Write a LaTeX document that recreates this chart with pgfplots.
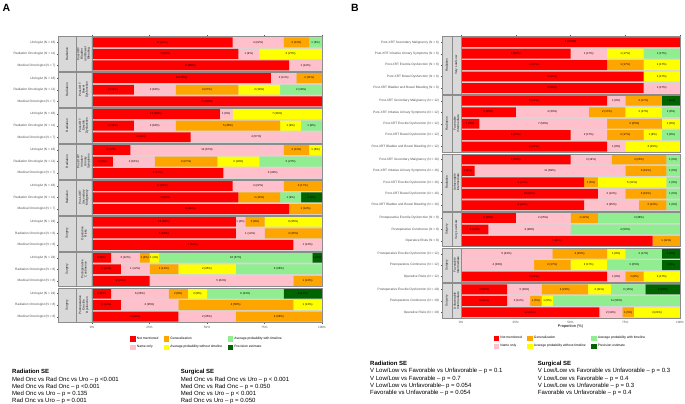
\documentclass[border=0pt]{standalone}
\usepackage{fontspec}
\setmainfont{Liberation Sans}
\usepackage{pgfplots}
\usepackage{pgfplotstable}
\pgfplotsset{compat=1.18}

\definecolor{cNM}{HTML}{FF0000}
\definecolor{cNO}{HTML}{FFC0CB}
\definecolor{cGE}{HTML}{FFA500}
\definecolor{cAW}{HTML}{FFFF00}
\definecolor{cAT}{HTML}{90EE90}
\definecolor{cPE}{HTML}{006400}
\definecolor{stripfill}{HTML}{D9D9D9}
\definecolor{stripdraw}{HTML}{8C8C8C}
\definecolor{paneldraw}{HTML}{8C8C8C}
\definecolor{panelbg}{HTML}{D6D6D6}
\definecolor{axtext}{HTML}{4D4D4D}
\definecolor{tickc}{HTML}{555555}

\newcommand\rowfont{\fontsize{3.2}{3.6}\selectfont}
\newcommand\ticfont{\fontsize{3.1}{3.5}\selectfont}
\newcommand\barfont{\fontsize{2.8}{3.1}\selectfont}
\newcommand\legfont{\fontsize{3.3}{3.7}\selectfont}
\newcommand\stripfont{\fontsize{3.1}{3.4}\selectfont}
\newcommand\bt{\fontsize{6}{7.25}\selectfont}

\newcommand\seglabel{%
  \ifdim\segcnt pt>0.5pt\relax
    \pgfmathtruncatemacro\segci{round(\segcnt)}%
    \pgfmathtruncatemacro\segni{round(\segnn)}%
    \pgfmathsetmacro\segpp{100*\segci/\segni}%
    \pgfmathsetmacro\segfl{floor(\segpp)}%
    \pgfmathsetmacro\segpr{abs(\segpp-\segfl-0.5)<0.01 ? (\segfl+mod(\segfl,2)) : round(\segpp)}%
    \pgfmathtruncatemacro\segpr{\segpr}%
    \segci\ (\segpr\%)%
  \fi}

% bar segment: #1 table, #2 column, #3 colour
\newcommand\seg[3]{%
 \addplot[forget plot, fill=#3, draw=none]
   table[x expr={100*\thisrow{#2}/\thisrow{N}}, y expr={-\thisrow{y}}]{#1};}

% label of a segment, at its centre: #1 table, #2 column, #3 x of centre
\newcommand\lab[3]{%
 \addplot[forget plot, draw=none, mark=none,
   visualization depends on={\thisrow{#2} \as \segcnt},
   visualization depends on={\thisrow{N} \as \segnn},
   nodes near coords={\seglabel},
   every node near coord/.append style={anchor=center, inner sep=0pt, font=\barfont, text=black}]
   table[x expr={#3}, y expr={-\thisrow{y}}]{#1};}

\newcommand\alllabels[1]{%
 \lab{#1}{c1}{100*(0.5*\thisrow{c1})/\thisrow{N}}
 \lab{#1}{c2}{100*(\thisrow{c1}+0.5*\thisrow{c2})/\thisrow{N}}
 \lab{#1}{c3}{100*(\thisrow{c1}+\thisrow{c2}+0.5*\thisrow{c3})/\thisrow{N}}
 \lab{#1}{c4}{100*(\thisrow{c1}+\thisrow{c2}+\thisrow{c3}+0.5*\thisrow{c4})/\thisrow{N}}
 \lab{#1}{c5}{100*(\thisrow{c1}+\thisrow{c2}+\thisrow{c3}+\thisrow{c4}+0.5*\thisrow{c5})/\thisrow{N}}
 \lab{#1}{c6}{100*(\thisrow{c1}+\thisrow{c2}+\thisrow{c3}+\thisrow{c4}+\thisrow{c5}+0.5*\thisrow{c6})/\thisrow{N}}
}

\newcommand\legsq[2]{\addlegendimage{legend image code/.code={\fill[#1] (0pt,-2.1pt) rectangle (4.2pt,2.1pt);}}\addlegendentry{#2}}

% background of a facet: #1 strip1 left, #2 strip2 left, #3 top, #4 bottom
\newcommand\facetbg[4]{%
  \fill[panelbg] (axis cs:0,-#3) rectangle (axis cs:100,-#4);
  \fill[stripfill] (axis cs:#1,-#3) rectangle (axis cs:0,-#4);}
% front of a facet: borders and strip texts
\newcommand\facetfront[6]{%
  \draw[draw=stripdraw, line width=0.35pt] (axis cs:#1,-#3) rectangle (axis cs:#2,-#4);
  \draw[draw=stripdraw, line width=0.35pt] (axis cs:#2,-#3) rectangle (axis cs:0,-#4);
  \draw[draw=paneldraw, line width=0.35pt] (axis cs:0,-#3) rectangle (axis cs:100,-#4);
  \node[rotate=90, font=\stripfont, align=center, text=black!90, inner sep=0pt] at (axis cs:{0.5*(#1)+0.5*(#2)},{-0.5*(#3)-0.5*(#4)}) {#5};
  \node[rotate=90, font=\stripfont, align=center, text=black!90, inner sep=0pt] at (axis cs:{0.5*(#2)},{-0.5*(#3)-0.5*(#4)}) {#6};
}

\pgfplotstableread{
y N c1 c2 c3 c4 c5 c6
0.5 18 11 4 2 0 1 0
1.5 11 7 1 0 3 0 0
2.5 7 6 1 0 0 0 0
3.6 18 14 2 2 0 0 0
4.6 11 2 2 3 2 2 0
5.6 7 7 0 0 0 0 0
6.7 18 10 1 0 7 0 0
7.7 11 2 2 5 1 1 0
8.7 7 3 4 0 0 0 0
9.8 18 3 12 2 1 0 0
10.8 11 1 2 3 2 3 0
11.8 7 4 3 0 0 0 0
12.9 18 11 4 3 0 0 0
13.9 11 7 0 2 0 1 1
14.9 7 6 0 1 0 0 0
16.0 24 15 1 2 6 0 0
17.0 8 5 1 2 0 0 0
18.0 8 7 1 0 0 0 0
19.1 24 2 3 1 1 16 1
20.1 8 1 1 1 2 3 0
21.1 8 2 5 1 0 0 0
22.2 24 2 6 2 2 8 4
23.2 8 1 2 4 1 0 0
24.2 8 3 2 3 0 0 0
}\tblA

\pgfplotstableread{
y N c1 c2 c3 c4 c5 c6
0.5 6 6 0 0 0 0 0
1.5 6 3 1 0 1 1 0
2.5 6 4 0 1 1 0 0
3.5 6 5 0 0 1 0 0
4.5 6 5 1 0 0 0 0
5.62 12 8 1 2 0 0 1
6.62 12 3 4 2 2 1 0
7.62 12 1 7 3 1 0 0
8.62 12 6 2 2 1 1 0
9.62 12 8 1 0 3 0 0
10.74 16 8 3 4 0 1 0
11.74 16 1 11 3 0 1 0
12.74 16 9 0 1 5 1 0
13.74 16 10 2 3 0 1 0
14.74 16 9 4 2 0 1 0
15.86 8 2 2 1 0 3 0
16.86 8 1 3 0 0 4 0
17.86 8 7 0 1 0 0 0
18.98 12 0 5 3 1 2 1
19.98 12 0 4 2 2 3 1
20.98 12 8 1 1 2 0 0
22.1 19 4 3 4 2 3 3
23.1 19 4 2 1 1 11 0
24.1 19 12 2 1 4 0 0
}\tblB

\pgfplotsset{
  plain/.style={scale only axis, anchor=north west, hide axis, clip=false,
    enlargelimits=false, xmin=0, xmax=100},
  common/.style={
    scale only axis, anchor=north west,
    xbar stacked, enlargelimits=false, clip=false,
    xmin=0, xmax=100,
    axis line style={draw=none},
    xtick={0,25,50,75,100},
    xticklabels={0\%,25\%,50\%,75\%,100\%},
    xticklabel style={font=\ticfont, text=axtext, inner sep=0pt, anchor=north},
    xtick style={draw=tickc, line width=0.3pt},
    ytick style={draw=none},
    tick align=outside, major tick length=1.3pt,
    yticklabel style={font=\rowfont, text=axtext, inner sep=0pt, anchor=east},
    legend columns=2, transpose legend,
    legend cell align=left,
    legend style={at={(0.5,0)}, anchor=north, draw=none, fill=none, inner sep=0pt,
      font=\legfont, /tikz/every even column/.append style={column sep=3.5pt},
      row sep=0.3pt},
  }
}

\begin{document}
\begin{tikzpicture}
\useasboundingbox (0,0) rectangle (685pt,-404pt);

% ---------------- Panel A ----------------
\begin{axis}[plain, at={(92pt,-36.5pt)}, width=230pt, height=286pt, ymin=-24.7, ymax=0]
\facetbg{-14.65}{-7.09}{0}{3}\facetbg{-14.65}{-7.09}{3.1}{6.1}
\facetbg{-14.65}{-7.09}{6.2}{9.2}\facetbg{-14.65}{-7.09}{9.3}{12.3}
\facetbg{-14.65}{-7.09}{12.4}{15.4}\facetbg{-14.65}{-7.09}{15.5}{18.5}
\facetbg{-14.65}{-7.09}{18.6}{21.6}\facetbg{-14.65}{-7.09}{21.7}{24.7}
\end{axis}
\begin{axis}[common,
  at={(92pt,-36.5pt)}, width=230pt, height=286pt,
  bar width=0.86, ymin=-24.7, ymax=0,
  xticklabel style={yshift=-2.6pt},
  yticklabel style={xshift=-35pt},
  legend style={yshift=-12pt},
  ytick={-24.2,-23.2,-22.2,-21.1,-20.1,-19.1,-18,-17,-16,-14.9,-13.9,-12.9,-11.8,-10.8,-9.8,-8.7,-7.7,-6.7,-5.6,-4.6,-3.6,-2.5,-1.5,-0.5},
  yticklabels={Medical Oncologist (N = 8),Radiation Oncologist (N = 8),Urologist (N = 24),
    Medical Oncologist (N = 8),Radiation Oncologist (N = 8),Urologist (N = 24),
    Medical Oncologist (N = 8),Radiation Oncologist (N = 8),Urologist (N = 24),
    Medical Oncologist (N = 7),Radiation Oncologist (N = 11),Urologist (N = 18),
    Medical Oncologist (N = 7),Radiation Oncologist (N = 11),Urologist (N = 18),
    Medical Oncologist (N = 7),Radiation Oncologist (N = 11),Urologist (N = 18),
    Medical Oncologist (N = 7),Radiation Oncologist (N = 11),Urologist (N = 18),
    Medical Oncologist (N = 7),Radiation Oncologist (N = 11),Urologist (N = 18)},
]
\seg{\tblA}{c1}{cNM}
\seg{\tblA}{c2}{cNO}
\seg{\tblA}{c3}{cGE}
\seg{\tblA}{c4}{cAW}
\seg{\tblA}{c5}{cAT}
\seg{\tblA}{c6}{cPE}
\legsq{cNM}{Not mentioned}
\legsq{cNO}{Name only}
\legsq{cGE}{Generalization}
\legsq{cAW}{Average probability without timeline}
\legsq{cAT}{Average probability with timeline}
\legsq{cPE}{Precision estimate}
\end{axis}
\begin{axis}[plain, at={(92pt,-36.5pt)}, width=230pt, height=286pt, ymin=-24.7, ymax=0]
\alllabels{\tblA}
\facetfront{-14.65}{-7.09}{0}{3}{Radiation}{Post-XRT\\Bladder\\and Bowel\\Bleeding}
\facetfront{-14.65}{-7.09}{3.1}{6.1}{Radiation}{Post-XRT\\Bowel\\Dysfunction}
\facetfront{-14.65}{-7.09}{6.2}{9.2}{Radiation}{Post-XRT\\Erectile\\Dysfunction}
\facetfront{-14.65}{-7.09}{9.3}{12.3}{Radiation}{Post-XRT\\Irritative\\Urinary\\Symptoms}
\facetfront{-14.65}{-7.09}{12.4}{15.4}{Radiation}{Post-XRT\\Secondary\\Malignancy}
\facetfront{-14.65}{-7.09}{15.5}{18.5}{Surgery}{Operative\\Risks}
\facetfront{-14.65}{-7.09}{18.6}{21.6}{Surgery}{Postoperative\\Continence}
\facetfront{-14.65}{-7.09}{21.7}{24.7}{Surgery}{Postoperative\\Erectile\\Dysfunction}
\pgfplotsinvokeforeach{-24.2,-23.2,-22.2,-21.1,-20.1,-19.1,-18,-17,-16,-14.9,-13.9,-12.9,-11.8,-10.8,-9.8,-8.7,-7.7,-6.7,-5.6,-4.6,-3.6,-2.5,-1.5,-0.5}{
  \draw[draw=tickc, line width=0.3pt] (axis cs:-14.65,#1) -- ([xshift=-1.3pt]axis cs:-14.65,#1);}
\end{axis}

% ---------------- Panel B ----------------
\begin{axis}[plain, at={(461pt,-36.5pt)}, width=219pt, height=281.5pt, ymin=-24.6, ymax=0]
\facetbg{-8.68}{-4.25}{0}{5}\facetbg{-8.68}{-4.25}{5.12}{10.12}
\facetbg{-8.68}{-4.25}{10.24}{15.24}\facetbg{-8.68}{-4.25}{15.36}{18.36}
\facetbg{-8.68}{-4.25}{18.48}{21.48}\facetbg{-8.68}{-4.25}{21.6}{24.6}
\end{axis}
\begin{axis}[common,
  at={(461pt,-36.5pt)}, width=219pt, height=281.5pt,
  bar width=0.86, ymin=-24.6, ymax=0,
  xticklabel style={yshift=-1.8pt},
  yticklabel style={xshift=-20.5pt},
  xlabel={Proportion (\%)},
  xlabel style={at={(0.5,0)}, anchor=north, yshift=-6.3pt, inner sep=0pt, font=\fontsize{3.9}{4.3}\selectfont},
  legend style={yshift=-15.8pt},
  ytick={-24.1,-23.1,-22.1,-20.98,-19.98,-18.98,-17.86,-16.86,-15.86,-14.74,-13.74,-12.74,-11.74,-10.74,-9.62,-8.62,-7.62,-6.62,-5.62,-4.5,-3.5,-2.5,-1.5,-0.5},
  yticklabels={Operative Risks (N = 19),Postoperative Continence (N = 19),Postoperative Erectile Dysfunction (N = 19),
    Operative Risks (N = 12),Postoperative Continence (N = 12),Postoperative Erectile Dysfunction (N = 12),
    Operative Risks (N = 8),Postoperative Continence (N = 8),Postoperative Erectile Dysfunction (N = 8),
    Post-XRT Bladder and Bowel Bleeding (N = 16),Post-XRT Bowel Dysfunction (N = 16),Post-XRT Erectile Dysfunction (N = 16),Post-XRT Irritative Urinary Symptoms (N = 16),Post-XRT Secondary Malignancy (N = 16),
    Post-XRT Bladder and Bowel Bleeding (N = 12),Post-XRT Bowel Dysfunction (N = 12),Post-XRT Erectile Dysfunction (N = 12),Post-XRT Irritative Urinary Symptoms (N = 12),Post-XRT Secondary Malignancy (N = 12),
    Post-XRT Bladder and Bowel Bleeding (N = 6),Post-XRT Bowel Dysfunction (N = 6),Post-XRT Erectile Dysfunction (N = 6),Post-XRT Irritative Urinary Symptoms (N = 6),Post-XRT Secondary Malignancy (N = 6)},
]
\seg{\tblB}{c1}{cNM}
\seg{\tblB}{c2}{cNO}
\seg{\tblB}{c3}{cGE}
\seg{\tblB}{c4}{cAW}
\seg{\tblB}{c5}{cAT}
\seg{\tblB}{c6}{cPE}
\legsq{cNM}{Not mentioned}
\legsq{cNO}{Name only}
\legsq{cGE}{Generalization}
\legsq{cAW}{Average probability without timeline}
\legsq{cAT}{Average probability with timeline}
\legsq{cPE}{Precision estimate}
\end{axis}
\begin{axis}[plain, at={(461pt,-36.5pt)}, width=219pt, height=281.5pt, ymin=-24.6, ymax=0]
\alllabels{\tblB}
\facetfront{-8.68}{-4.25}{0}{5}{Radiation}{Very Low/Low}
\facetfront{-8.68}{-4.25}{5.12}{10.12}{Radiation}{Favorable\\Intermediate}
\facetfront{-8.68}{-4.25}{10.24}{15.24}{Radiation}{Unfavorable\\Intermediate}
\facetfront{-8.68}{-4.25}{15.36}{18.36}{Surgery}{Very Low/Low}
\facetfront{-8.68}{-4.25}{18.48}{21.48}{Surgery}{Favorable\\Intermediate}
\facetfront{-8.68}{-4.25}{21.6}{24.6}{Surgery}{Unfavorable\\Intermediate}
\pgfplotsinvokeforeach{-24.1,-23.1,-22.1,-20.98,-19.98,-18.98,-17.86,-16.86,-15.86,-14.74,-13.74,-12.74,-11.74,-10.74,-9.62,-8.62,-7.62,-6.62,-5.62,-4.5,-3.5,-2.5,-1.5,-0.5}{
  \draw[draw=tickc, line width=0.3pt] (axis cs:-8.68,#1) -- ([xshift=-1.3pt]axis cs:-8.68,#1);}
\end{axis}

% panel letters
\node[anchor=base west, inner sep=0pt, font=\fontsize{10.5}{11}\selectfont\bfseries] at (2.5pt,-12pt) {A};
\node[anchor=base west, inner sep=0pt, font=\fontsize{10.5}{11}\selectfont\bfseries] at (351pt,-12pt) {B};

% statistics text, panel A
\node[anchor=base west, inner sep=0pt, font=\bt\bfseries] at (12pt,-373.8pt) {Radiation SE};
\node[anchor=base west, inner sep=0pt, font=\bt] at (12pt,-381.05pt) {Med Onc vs Rad Onc vs Uro – p <0.001};
\node[anchor=base west, inner sep=0pt, font=\bt] at (12pt,-388.3pt) {Med Onc vs Rad Onc – p <0.001};
\node[anchor=base west, inner sep=0pt, font=\bt] at (12pt,-395.55pt) {Med Onc vs Uro – p = 0.135};
\node[anchor=base west, inner sep=0pt, font=\bt] at (12pt,-402.8pt) {Rad Onc vs Uro – p = 0.001};
\node[anchor=base west, inner sep=0pt, font=\bt\bfseries] at (180.7pt,-373.8pt) {Surgical SE};
\node[anchor=base west, inner sep=0pt, font=\bt] at (180.7pt,-381.05pt) {Med Onc vs Rad Onc vs Uro – p < 0.001};
\node[anchor=base west, inner sep=0pt, font=\bt] at (180.7pt,-388.3pt) {Med Onc vs Rad Onc – p = 0.050};
\node[anchor=base west, inner sep=0pt, font=\bt] at (180.7pt,-395.55pt) {Med Onc vs Uro – p < 0.001};
\node[anchor=base west, inner sep=0pt, font=\bt] at (180.7pt,-402.8pt) {Rad Onc vs Uro – p = 0.050};

% statistics text, panel B
\node[anchor=base west, inner sep=0pt, font=\bt\bfseries] at (370pt,-365.5pt) {Radiation SE};
\node[anchor=base west, inner sep=0pt, font=\bt] at (370pt,-372.75pt) {V Low/Low vs Favorable vs Unfavorable – p = 0.1};
\node[anchor=base west, inner sep=0pt, font=\bt] at (370pt,-380pt) {V Low/Low vs Favorable – p = 0.7};
\node[anchor=base west, inner sep=0pt, font=\bt] at (370pt,-387.25pt) {V Low/Low vs Unfavorable– p = 0.054};
\node[anchor=base west, inner sep=0pt, font=\bt] at (370pt,-394.5pt) {Favorable vs Unfavorable – p = 0.054};
\node[anchor=base west, inner sep=0pt, font=\bt\bfseries] at (537.7pt,-365.5pt) {Surgical SE};
\node[anchor=base west, inner sep=0pt, font=\bt] at (537.7pt,-372.75pt) {V Low/Low vs Favorable vs Unfavorable – p = 0.3};
\node[anchor=base west, inner sep=0pt, font=\bt] at (537.7pt,-380pt) {V Low/Low vs Favorable – p = 0.4};
\node[anchor=base west, inner sep=0pt, font=\bt] at (537.7pt,-387.25pt) {V Low/Low vs Unfavorable – p = 0.3};
\node[anchor=base west, inner sep=0pt, font=\bt] at (537.7pt,-394.5pt) {Favorable vs Unfavorable – p = 0.4};
\end{tikzpicture}
\end{document}
